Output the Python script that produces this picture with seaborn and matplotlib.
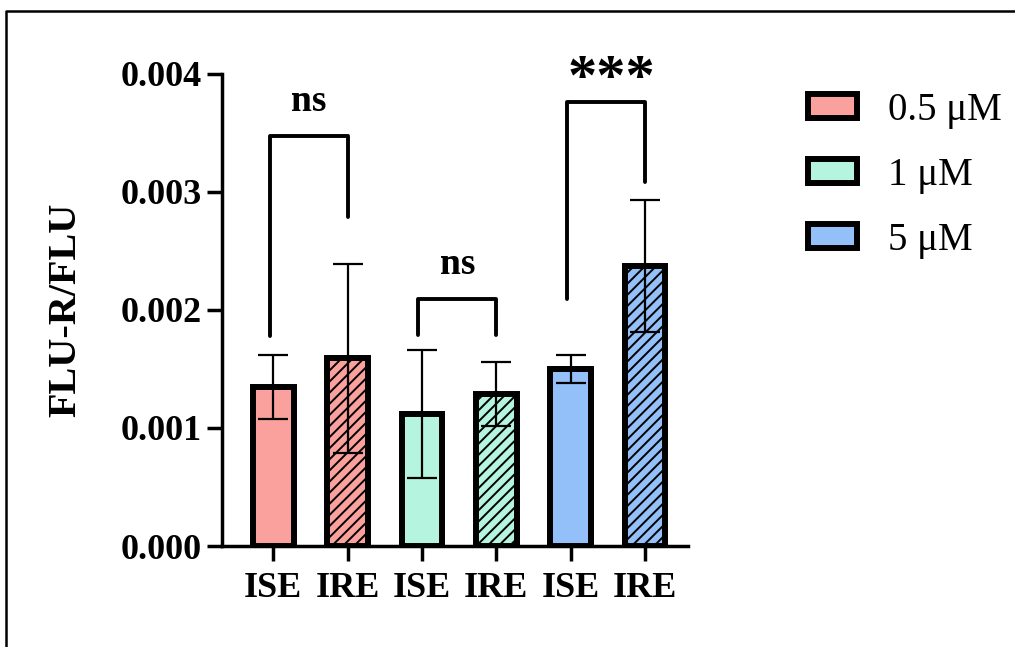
import numpy as np
import matplotlib
matplotlib.use("Agg")
import matplotlib.pyplot as plt
from matplotlib.patches import Patch
from matplotlib.lines import Line2D
import seaborn as sns
import pandas as pd

# %% data
groups = ["0.5 μM", "0.5 μM", "1 μM", "1 μM", "5 μM", "5 μM"]
labels = ["ISE", "IRE", "ISE", "IRE", "ISE", "IRE"]
means = [0.00135, 0.00159, 0.00112, 0.00129, 0.00150, 0.00237]
sds = [0.00027, 0.00080, 0.00054, 0.00027, 0.00012, 0.00056]
colors = {"0.5 μM": "#FAA19E", "1 μM": "#B5F5DF", "5 μM": "#93C0F8"}

# significance brackets
sig_left = [0, 2, 4]
sig_right = [1, 3, 5]
sig_lbot = [0.00178, 0.00179, 0.00209]
sig_rbot = [0.00279, 0.00179, 0.00308]
sig_top = [0.00347, 0.00209, 0.00376]
sig_text = ["ns", "ns", "***"]
sig_text_y = [0.00362, 0.00224, 0.00373]

df = pd.DataFrame({"pos": [f"{l}{i}" for i, l in enumerate(labels)],
                   "group": groups, "value": means})

# %% plot
sns.set_style("ticks")
plt.rcParams["font.family"] = ["Liberation Serif", "DejaVu Serif"]
plt.rcParams["hatch.linewidth"] = 1.4
plt.rcParams["text.color"] = "black"
plt.rcParams["xtick.color"] = "black"
plt.rcParams["ytick.color"] = "black"
plt.rcParams["axes.labelcolor"] = "black"

fig = plt.figure(figsize=(10.15, 6.47), dpi=100)
ax = fig.add_axes([0.219, 0.156, 0.459, 0.730])

sns.barplot(data=df, x="pos", y="value", hue="group", palette=colors,
            dodge=False, errorbar=None, width=0.55, edgecolor="black",
            linewidth=4.3, saturation=1, legend=False, ax=ax)

for p in ax.patches:
    cx = p.get_x() + p.get_width() / 2
    idx = int(round(cx))
    if 0 <= idx < len(labels) and labels[idx] == "IRE":
        p.set_hatch("///")

ax.errorbar(np.arange(len(means)), means, yerr=sds, fmt="none",
            ecolor="black", elinewidth=1.6, capsize=11, capthick=1.6, zorder=5)

for l, r, lb, rb, t, s, ty in zip(sig_left, sig_right, sig_lbot, sig_rbot,
                                  sig_top, sig_text, sig_text_y):
    xl, xr = l - 0.05, r
    ax.plot([xl, xl, xr, xr], [lb, t, t, rb], color="black", lw=2.8,
            solid_joinstyle="round", clip_on=False)
    fs = 42 if s == "***" else 27
    dx = 0.07 if s == "***" else 0
    ax.text((xl + xr) / 2 + dx, ty, s, ha="center", va="bottom", fontsize=fs,
            fontweight="bold", clip_on=False)

ax.set_xlim(-0.685, 5.58)
ax.set_ylim(0, 0.004)
ax.set_yticks([0, 0.001, 0.002, 0.003, 0.004])
ax.set_yticklabels(["0.000", "0.001", "0.002", "0.003", "0.004"])
ax.set_xticks(range(len(labels)))
ax.set_xticklabels(labels)
ax.set_xlabel("")
ax.set_ylabel("FLU-R/FLU", fontsize=29, fontweight="bold", labelpad=26)
for t in ax.get_xticklabels() + ax.get_yticklabels():
    t.set_fontsize(26)
    t.set_fontweight("bold")
ax.tick_params(axis="both", width=2.5, length=11, color="black")
ax.tick_params(axis="x", pad=8)
ax.tick_params(axis="y", pad=4)
for side in ["left", "bottom"]:
    ax.spines[side].set_linewidth(2.5)
    ax.spines[side].set_color("black")
sns.despine(ax=ax)

handles = [Patch(facecolor=colors[g], edgecolor="black", linewidth=4.3, label=g)
           for g in ["0.5 μM", "1 μM", "5 μM"]]
fig.legend(handles=handles, loc="upper left", bbox_to_anchor=(0.762, 0.912),
           frameon=False, fontsize=28, handlelength=1.25, handleheight=0.55,
           labelspacing=0.72, handletextpad=0.8)

# frame around the figure (left and top edges visible)
fig.add_artist(Line2D([6 / 1015, 6 / 1015, 1.0], [0.0, 1 - 11 / 647, 1 - 11 / 647],
                      transform=fig.transFigure, color="black", lw=1.8))

fig.savefig("out.png", dpi=100)
